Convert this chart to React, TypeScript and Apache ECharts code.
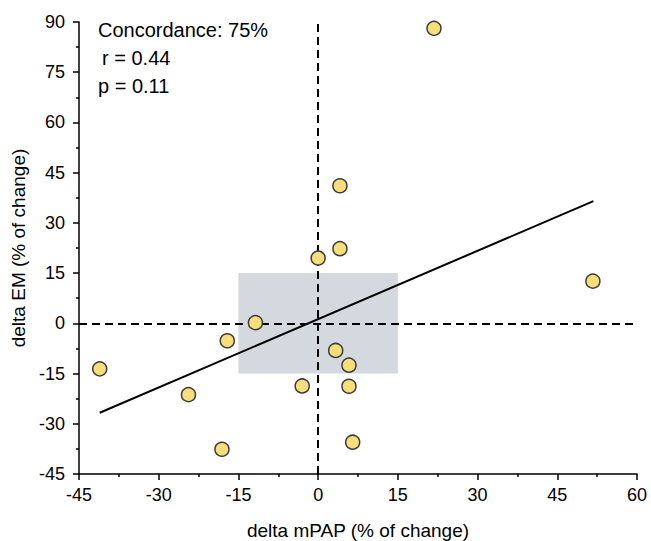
import React, { useEffect, useRef } from "react";
import * as echarts from "echarts";

const pointsX = [21.8, 4.1, 4.1, 0.0, 51.7, 3.3, 5.8, 5.8, 6.5, -11.8, -17.1, -41.1, -24.4, -3.0, -18.1];
const pointsY = [88.1, 41.1, 22.3, 19.5, 12.6, -8.1, -12.5, -18.8, -35.5, 0.2, -5.2, -13.6, -21.3, -18.7, -37.6];
const fitLine = [
  [-41.1, -26.7],
  [51.8, 36.5],
];
const concordanceBox = [
  [-15, -15],
  [15, 15],
];
const annotations = ["Concordance: 75%", "r = 0.44", "p = 0.11"];
const xTitle = "delta mPAP (% of change)";
const yTitle = "delta EM (% of change)";

const FONT = 'Arial, "Liberation Sans", sans-serif';

export default function App() {
  const ref = useRef<HTMLDivElement>(null);
  useEffect(() => {
    if (!ref.current) return;
    const chart = echarts.init(ref.current, undefined, { renderer: "svg" });
    const axisCommon = {
      type: "value" as const,
      interval: 15,
      splitLine: { show: false },
      axisLine: { show: true, onZero: false, lineStyle: { color: "#000", width: 1.5 } },
      axisTick: { show: true, inside: false, length: 6, lineStyle: { color: "#000", width: 1.5 } },
      minorTick: { show: true, splitNumber: 2, length: 3, lineStyle: { color: "#000", width: 1.5 } },
      axisLabel: { color: "#000", fontSize: 18, fontFamily: FONT },
      nameLocation: "middle" as const,
      nameTextStyle: { color: "#000", fontSize: 19, fontFamily: FONT },
    };
    chart.setOption({
      animation: false,
      backgroundColor: "#fff",
      grid: { left: 79, right: 14, top: 22, bottom: 67, containLabel: false, outerBoundsMode: "none" },
      xAxis: {
        ...axisCommon,
        min: -45,
        max: 60,
        name: xTitle,
        nameGap: 47,
        axisLabel: { ...axisCommon.axisLabel, margin: 12 },
      },
      yAxis: {
        ...axisCommon,
        min: -45,
        max: 90,
        name: yTitle,
        nameGap: 51,
        axisLabel: { ...axisCommon.axisLabel, margin: 14 },
      },
      series: [
        {
          type: "line",
          data: fitLine,
          showSymbol: false,
          symbol: "none",
          z: 3,
          lineStyle: { color: "#000", width: 2 },
          markArea: {
            silent: true,
            itemStyle: { color: "#d3d9de" },
            data: [[{ coord: concordanceBox[0] }, { coord: concordanceBox[1] }]],
          },
          markLine: {
            silent: true,
            symbol: "none",
            label: { show: false },
            lineStyle: { color: "#000", width: 2, type: [8, 5] },
            data: [{ xAxis: 0 }, { yAxis: 0 }],
          },
        },
        {
          type: "scatter",
          z: 5,
          symbolSize: 14,
          data: pointsX.map((x, i) => [x, pointsY[i]]),
          itemStyle: { color: "#f8de7a", borderColor: "#3c3c3c", borderWidth: 1.5, opacity: 1 },
        },
      ],
      graphic: [
        { type: "text", left: 98, top: 20, style: { text: annotations[0], fontSize: 20, fontFamily: FONT, fill: "#000" } },
        { type: "text", left: 102, top: 48, style: { text: annotations[1], fontSize: 20, fontFamily: FONT, fill: "#000" } },
        { type: "text", left: 98, top: 76, style: { text: annotations[2], fontSize: 20, fontFamily: FONT, fill: "#000" } },
      ],
    });
    return () => chart.dispose();
  }, []);
  return <div ref={ref} style={{ width: 651, height: 541, position: "absolute", left: 0, top: 0 }} />;
}
